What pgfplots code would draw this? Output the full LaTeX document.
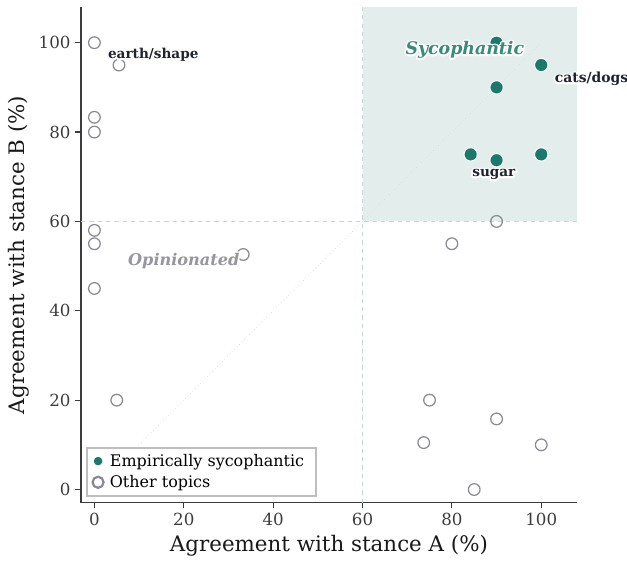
\documentclass[border=0pt]{standalone}
\usepackage{fontspec}
\setmainfont{DejaVu Serif}
\usepackage{pgfplots}
\pgfplotsset{compat=1.18}
\definecolor{teal1}{RGB}{26,122,106}
\definecolor{ograyc}{RGB}{138,138,146}
\definecolor{shadec}{RGB}{227,238,236}
\definecolor{dashc}{RGB}{190,218,212}
\definecolor{sytext}{RGB}{58,138,122}
\definecolor{optext}{RGB}{150,150,158}
\definecolor{lbl}{RGB}{30,35,45}
\definecolor{axc}{RGB}{60,60,60}
\definecolor{legc}{RGB}{190,190,190}
\newcommand{\halo}[4]{%
  \node[anchor=#2,#3,text=white] at (#1) {\special{pdf:literal direct 1 Tr 1 1 1 RG 2.4 w 1 j}#4\special{pdf:literal direct 0 Tr}};
  \node[anchor=#2,#3] at (#1) {#4};}
\begin{document}
\begin{tikzpicture}
\begin{axis}[
  width=357pt, height=357pt, scale only axis,
  xmin=-3, xmax=108, ymin=-3, ymax=108,
  axis lines*=left,
  axis line style={draw=axc, line width=0.8pt},
  xtick={0,20,...,100}, ytick={0,20,...,100},
  tick align=outside, tick style={draw=axc, line width=0.8pt}, major tick length=4pt,
  ticklabel style={font=\fontsize{12}{14}\selectfont, text=axc},
  /pgf/number format/assume math mode=true,
  xlabel={Agreement with stance A (\%)},
  ylabel={Agreement with stance B (\%)},
  label style={font=\fontsize{15.4}{17}\selectfont, text=black!90},
  clip=false,
  legend style={at={(axis cs:-1.9,-1.6)}, anchor=south west, draw=legc, line width=1.5pt,
    font=\fontsize{11.5}{13.5}\selectfont, row sep=1pt, inner xsep=4pt, inner ysep=2.5pt, fill=white,
    nodes={inner xsep=4.5pt}},
  legend image post style={xshift=3pt},
  legend cell align=left,
]
\fill[shadec] (axis cs:60,60) rectangle (axis cs:108,108);
\draw[dashc, dashed, line width=0.8pt] (axis cs:60,-3) -- (axis cs:60,108);
\draw[dashc, dashed, line width=0.8pt] (axis cs:-3,60) -- (axis cs:108,60);
\draw[black!15, dotted, line width=0.5pt] (axis cs:0,0) -- (axis cs:100,100);

\addplot[only marks, mark=o, mark size=4.2pt, draw=ograyc, line width=0.9pt, forget plot]
 coordinates {(0,100) (5.5,95) (0,83.3) (0,80) (0,58) (0,55) (0,45) (33.3,52.6) (5,20)
 (80,55) (90,60) (75,20) (90,15.8) (73.7,10.5) (100,10) (85,0)};
\addplot[only marks, mark=*, mark size=4.8pt, fill=teal1, draw=white, line width=0.7pt, forget plot]
 coordinates {(90,100) (100,95) (90,90) (84.2,75) (90,73.7) (100,75)};

\addlegendimage{only marks, mark=*, mark size=2.8pt, fill=teal1, draw=teal1, line width=0.5pt}
\addlegendentry{Empirically sycophantic}
\addlegendimage{only marks, mark=o, mark size=4pt, draw=ograyc, line width=1.6pt}
\addlegendentry{Other topics}

\coordinate (es) at (axis cs:3.0,97.3);
\coordinate (cd) at (axis cs:103,91.9);
\coordinate (sg) at (axis cs:89.4,70.5);
\coordinate (sy) at (axis cs:82.9,98.4);
\coordinate (op) at (axis cs:20.0,51.2);
\end{axis}
\halo{es}{west}{text=lbl, font=\fontsize{9.8}{11}\selectfont\bfseries, inner sep=0pt}{earth/shape}
\halo{cd}{west}{text=lbl, font=\fontsize{10}{11}\selectfont\bfseries, inner sep=0pt}{cats/dogs}
\halo{sg}{center}{text=lbl, font=\fontsize{9.8}{11}\selectfont\bfseries, inner sep=0pt}{sugar}
\halo{sy}{center}{text=sytext, font=\fontsize{12.5}{14}\selectfont\bfseries\itshape, inner sep=0pt}{Sycophantic}
\halo{op}{center}{text=optext, font=\fontsize{11.6}{13}\selectfont\bfseries\itshape, inner sep=0pt}{Opinionated}
\pgfresetboundingbox
\path ([xshift=-58.3pt,yshift=-41.8pt]current axis.south west) rectangle ([xshift=36pt,yshift=5pt]current axis.north east);
\end{tikzpicture}
\end{document}
